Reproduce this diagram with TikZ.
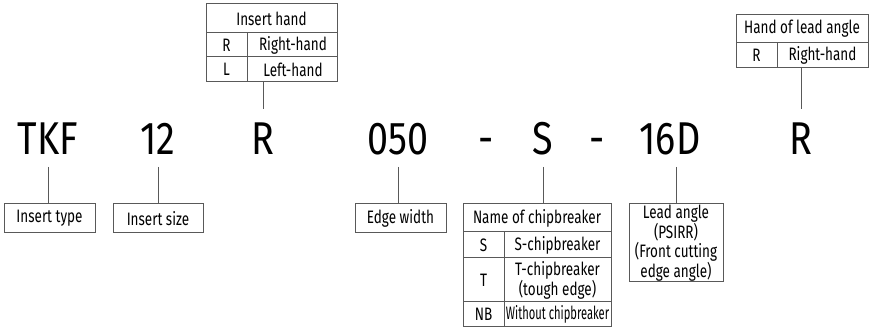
\documentclass[tikz,border=0pt]{standalone}
\usepackage{fontspec}
\setmainfont{Fira Sans}[FakeStretch=0.75]
\newfontfamily\tightfont{Fira Sans}[FakeStretch=0.62]
\newfontfamily\codefont{Fira Sans}[FakeStretch=0.82]
\colorlet{frame}{black!65}
\begin{document}
\begin{tikzpicture}[x=1pt,y=-1pt,every node/.style={font=\fontsize{18}{17}\selectfont},
  code/.style={font=\fontsize{46}{46}\codefont,inner sep=0pt,anchor=base},
  box/.style={draw=frame,line width=1pt,inner sep=0pt},
  link/.style={draw=frame,line width=1pt}]
 \useasboundingbox (0,0) rectangle (871,328);
 \coordinate (up) at (0,109); \coordinate (dn) at (0,167);
 % code letters
 \node[code] (tkf) at (48,155) {TKF};
 \node[code] (size) at (158,155) {12};
 \node[code] (hand) at (263,155) {R};
 \node[code] (width) at (398,155) {050};
 \node[code] (dashA) at (486,155) {-};
 \node[code] (chip) at (543,155) {S};
 \node[code] (dashB) at (597,155) {-};
 \node[code] (lead) at (670,155) {16D};
 \node[code] (leadhand) at (801,155) {R};
 % insert hand
 \node[box,minimum width=131pt,minimum height=78pt] (handtab) at (271.5,43) {};
 \draw[frame,line width=1pt] (206,33)--(337,33) (206,57)--(337,57) (247,33)--(247,82);
 \node (handhead) at (271.5,18.5) {Insert hand};
 \node (handR) at (226.5,45) {R};
 \node (handRt) at (293,45) {Right-hand};
 \node (handL) at (226.5,69.5) {L};
 \node (handLt) at (293,69.5) {Left-hand};
 % hand of lead angle
 \node[box,minimum width=132pt,minimum height=53pt] (leadtab) at (802,41.5) {};
 \draw[frame,line width=1pt] (736,43)--(868,43) (777,43)--(777,68);
 \node (leadhead) at (802,29) {Hand of lead angle};
 \node (leadR) at (756.5,55.5) {R};
 \node (leadRt) at (822.5,55.5) {Right-hand};
 % lower boxes
 \node[box,minimum width=91pt,minimum height=29pt] (typebox) at (49.5,218.5) {Insert type};
 \node[box,minimum width=90pt,minimum height=29pt] (sizebox) at (158,218.5) {Insert size};
 \node[box,minimum width=91pt,minimum height=29pt] (widthbox) at (400.5,218.5) {Edge width};
 \node[box,minimum width=94pt,minimum height=78pt,align=center] (leadbox) at (676,243)
   {Lead angle\\(PSIRR)\\(Front cutting\\edge angle)};
 % chipbreaker
 \node[box,minimum width=148pt,minimum height=123pt] (chiptab) at (537,265.5) {};
 \draw[frame,line width=1pt] (463,232)--(611,232) (463,258)--(611,258) (463,302)--(611,302)
   (504,232)--(504,327);
 \node (chiphead) at (537,218) {Name of chipbreaker};
 \node (chipS) at (483.5,245) {S};
 \node (chipSt) at (557.5,245) {S-chipbreaker};
 \node (chipT) at (483.5,280) {T};
 \node[align=center] (chipTt) at (557.5,280) {T-chipbreaker\\(tough edge)};
 \node (chipNB) at (483.5,314.5) {NB};
 \node[font=\fontsize{18}{17}\tightfont] (chipNBt) at (557.5,314.5) {Without chipbreaker};
 % connectors
 \draw[link] (tkf |- dn) -- (tkf |- typebox.north);
 \draw[link] (size |- dn) -- (size |- sizebox.north);
 \draw[link] (width |- dn) -- (width |- widthbox.north);
 \draw[link] (chip |- dn) -- (chip |- chiptab.north);
 \draw[link] (leadbox.north |- dn) -- (leadbox.north);
 \draw[link] (hand |- up) -- (hand |- handtab.south);
 \draw[link] (leadhand |- up) -- (leadhand |- leadtab.south);
\end{tikzpicture}
\end{document}
